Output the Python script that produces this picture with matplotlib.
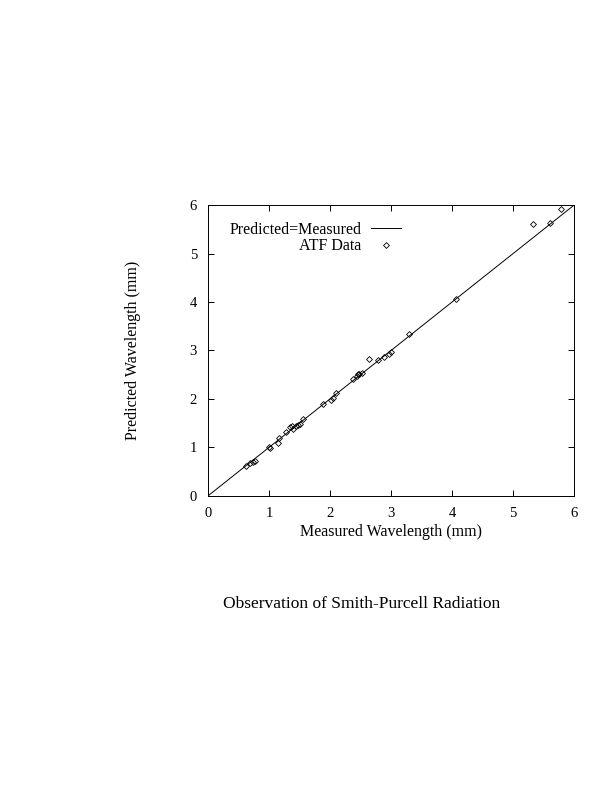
import numpy as np
import matplotlib
matplotlib.use('Agg')
import matplotlib.pyplot as plt

plt.rcParams['font.family'] = ['Liberation Serif', 'DejaVu Serif']

# ------------------------------------------------------------------------
# ATF data
measured = [0.62, 0.69, 0.73, 0.77, 1.00, 1.02, 1.14, 1.17, 1.28, 1.34,
            1.37, 1.39, 1.44, 1.47, 1.50, 1.55, 1.89, 2.02, 2.04, 2.10,
            2.37, 2.44, 2.46, 2.48, 2.53, 2.64, 2.78, 2.89, 2.96, 3.00,
            3.30, 4.07, 5.32, 5.61, 5.78]
predicted = [0.62, 0.68, 0.70, 0.72, 1.00, 0.99, 1.08, 1.19, 1.31, 1.41,
             1.44, 1.38, 1.45, 1.46, 1.49, 1.58, 1.90, 1.98, 2.02, 2.13,
             2.42, 2.48, 2.51, 2.52, 2.54, 2.83, 2.80, 2.86, 2.92, 2.97,
             3.35, 4.07, 5.61, 5.64, 5.91]
line_x = [0, 6]
ticks = [0, 1, 2, 3, 4, 5, 6]

# ------------------------------------------------------------------------
fig = plt.figure(figsize=(6.12, 7.92), dpi=100)
ax = fig.add_axes([0.340, 0.374, 0.598, 0.367])

ax.plot(line_x, line_x, color='black', lw=0.7, label='Predicted=Measured')
ax.plot(measured, predicted, 'D', ms=3, mfc='none', mec='black', mew=0.6,
        label='ATF Data')

ax.set_xlim(0, 6)
ax.set_ylim(0, 6)
ax.set_xticks(ticks)
ax.set_yticks(ticks)
ax.tick_params(direction='in', top=True, right=True, length=4, width=0.7,
               labelsize=10.5, pad=8)
for s in ax.spines.values():
    s.set_linewidth(0.7)

ax.set_xlabel('Measured Wavelength (mm)', fontsize=11.5, labelpad=3)
ax.set_ylabel('Predicted Wavelength (mm)', fontsize=11.5, labelpad=35)

leg = ax.legend(loc='upper left', bbox_to_anchor=(0.04, 0.965), frameon=False,
                markerfirst=False, fontsize=11.5, handlelength=1.9,
                handletextpad=0.6, labelspacing=0.05, borderaxespad=0)
for t in leg.get_texts():
    t.set_ha('right')
leg._legend_box.align = 'right'

fig.text(0.591, 0.237, 'Observation of Smith-Purcell Radiation',
         ha='center', va='center', fontsize=12.5)

fig.savefig('out.png', dpi=100)
